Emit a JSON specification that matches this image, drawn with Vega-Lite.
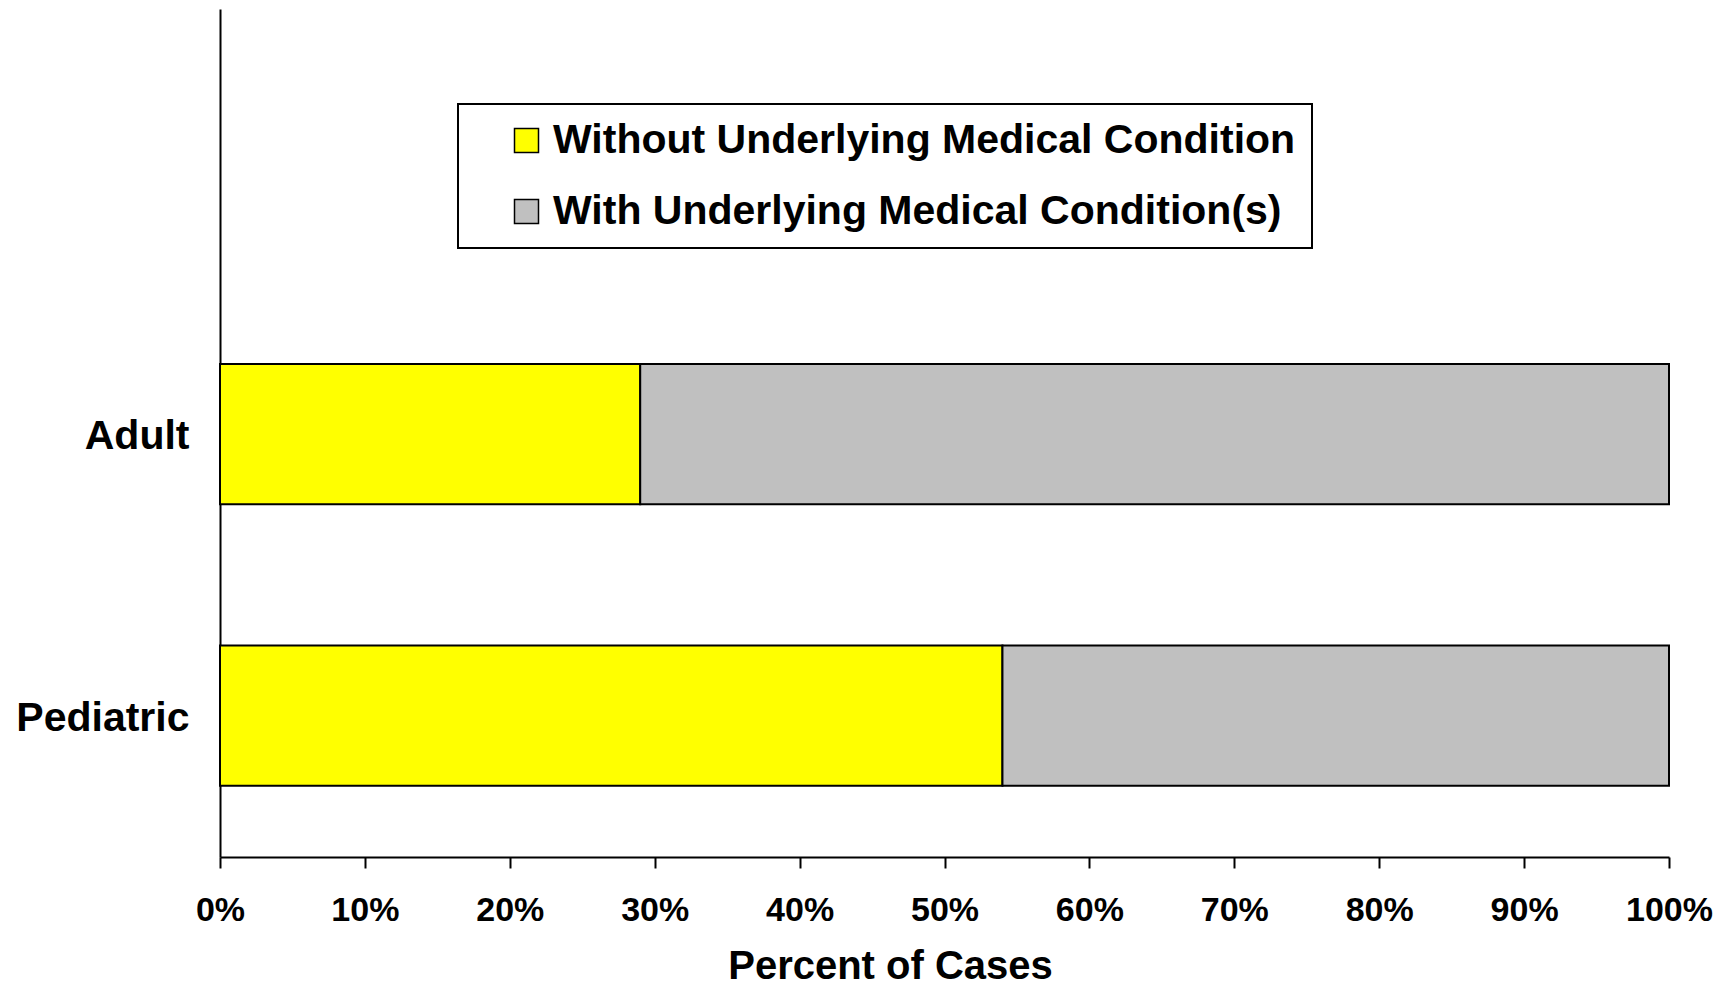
{
  "$schema": "https://vega.github.io/schema/vega-lite/v6.json",
  "width": 1449,
  "height": 848,
  "autosize": "none",
  "padding": {"left": 220, "top": 9, "right": 48, "bottom": 129},
  "background": "white",
  "data": {
    "values": [
      {"group": "Adult", "condition": "Without Underlying Medical Condition", "percent": 0.29},
      {"group": "Adult", "condition": "With Underlying Medical Condition(s)", "percent": 0.71},
      {"group": "Pediatric", "condition": "Without Underlying Medical Condition", "percent": 0.54},
      {"group": "Pediatric", "condition": "With Underlying Medical Condition(s)", "percent": 0.46}
    ]
  },
  "mark": {"type": "bar", "stroke": "black", "strokeWidth": 2},
  "encoding": {
    "y": {
      "field": "group",
      "type": "nominal",
      "sort": ["Adult", "Pediatric"],
      "scale": {"paddingInner": 0.501, "paddingOuter": 0.7567, "align": 0.833},
      "axis": {
        "title": null,
        "ticks": false,
        "tickSize": 0,
        "labelPadding": 31,
        "labelFontSize": 41,
        "labelFontWeight": "bold",
        "labelColor": "black",
        "labelOffset": 3,
        "domainColor": "black",
        "domainWidth": 2,
        "grid": false
      }
    },
    "x": {
      "field": "percent",
      "type": "quantitative",
      "stack": "zero",
      "scale": {"domain": [0, 1], "nice": false},
      "axis": {
        "title": "Percent of Cases",
        "values": [0, 0.1, 0.2, 0.3, 0.4, 0.5, 0.6, 0.7, 0.8, 0.9, 1],
        "format": ".0%",
        "grid": false,
        "domainColor": "black",
        "domainWidth": 2,
        "tickColor": "black",
        "tickWidth": 2,
        "tickSize": 11,
        "labelPadding": 25,
        "labelFontSize": 34,
        "labelFontWeight": "bold",
        "labelColor": "black",
        "labelFlush": false,
        "labelOverlap": false,
        "titleFontSize": 40,
        "titleFontWeight": "bold",
        "titleColor": "black",
        "titleX": 670,
        "titleY": 121,
        "titleAlign": "center",
        "titleBaseline": "alphabetic"
      }
    },
    "color": {
      "field": "condition",
      "type": "nominal",
      "scale": {
        "domain": ["Without Underlying Medical Condition", "With Underlying Medical Condition(s)"],
        "range": ["#FFFF00", "#C0C0C0"]
      },
      "legend": {
        "title": null,
        "orient": "none",
        "legendX": 238,
        "legendY": 95,
        "direction": "vertical",
        "fillColor": "white",
        "strokeColor": "black",
        "padding": 16,
        "rowPadding": 29,
        "symbolType": "square",
        "symbolSize": 576,
        "symbolStrokeColor": "black",
        "symbolStrokeWidth": 1.5,
        "symbolOpacity": 1,
        "symbolOffset": 32,
        "labelOffset": 6,
        "labelFontSize": 41,
        "labelFontWeight": "bold",
        "labelColor": "black",
        "labelLimit": 2000,
        "encode": {"legend": {"update": {"strokeWidth": {"value": 2}}}}
      }
    },
    "order": {"field": "condition", "sort": "descending"}
  },
  "config": {
    "font": "Liberation Sans",
    "view": {"stroke": null}
  }
}
